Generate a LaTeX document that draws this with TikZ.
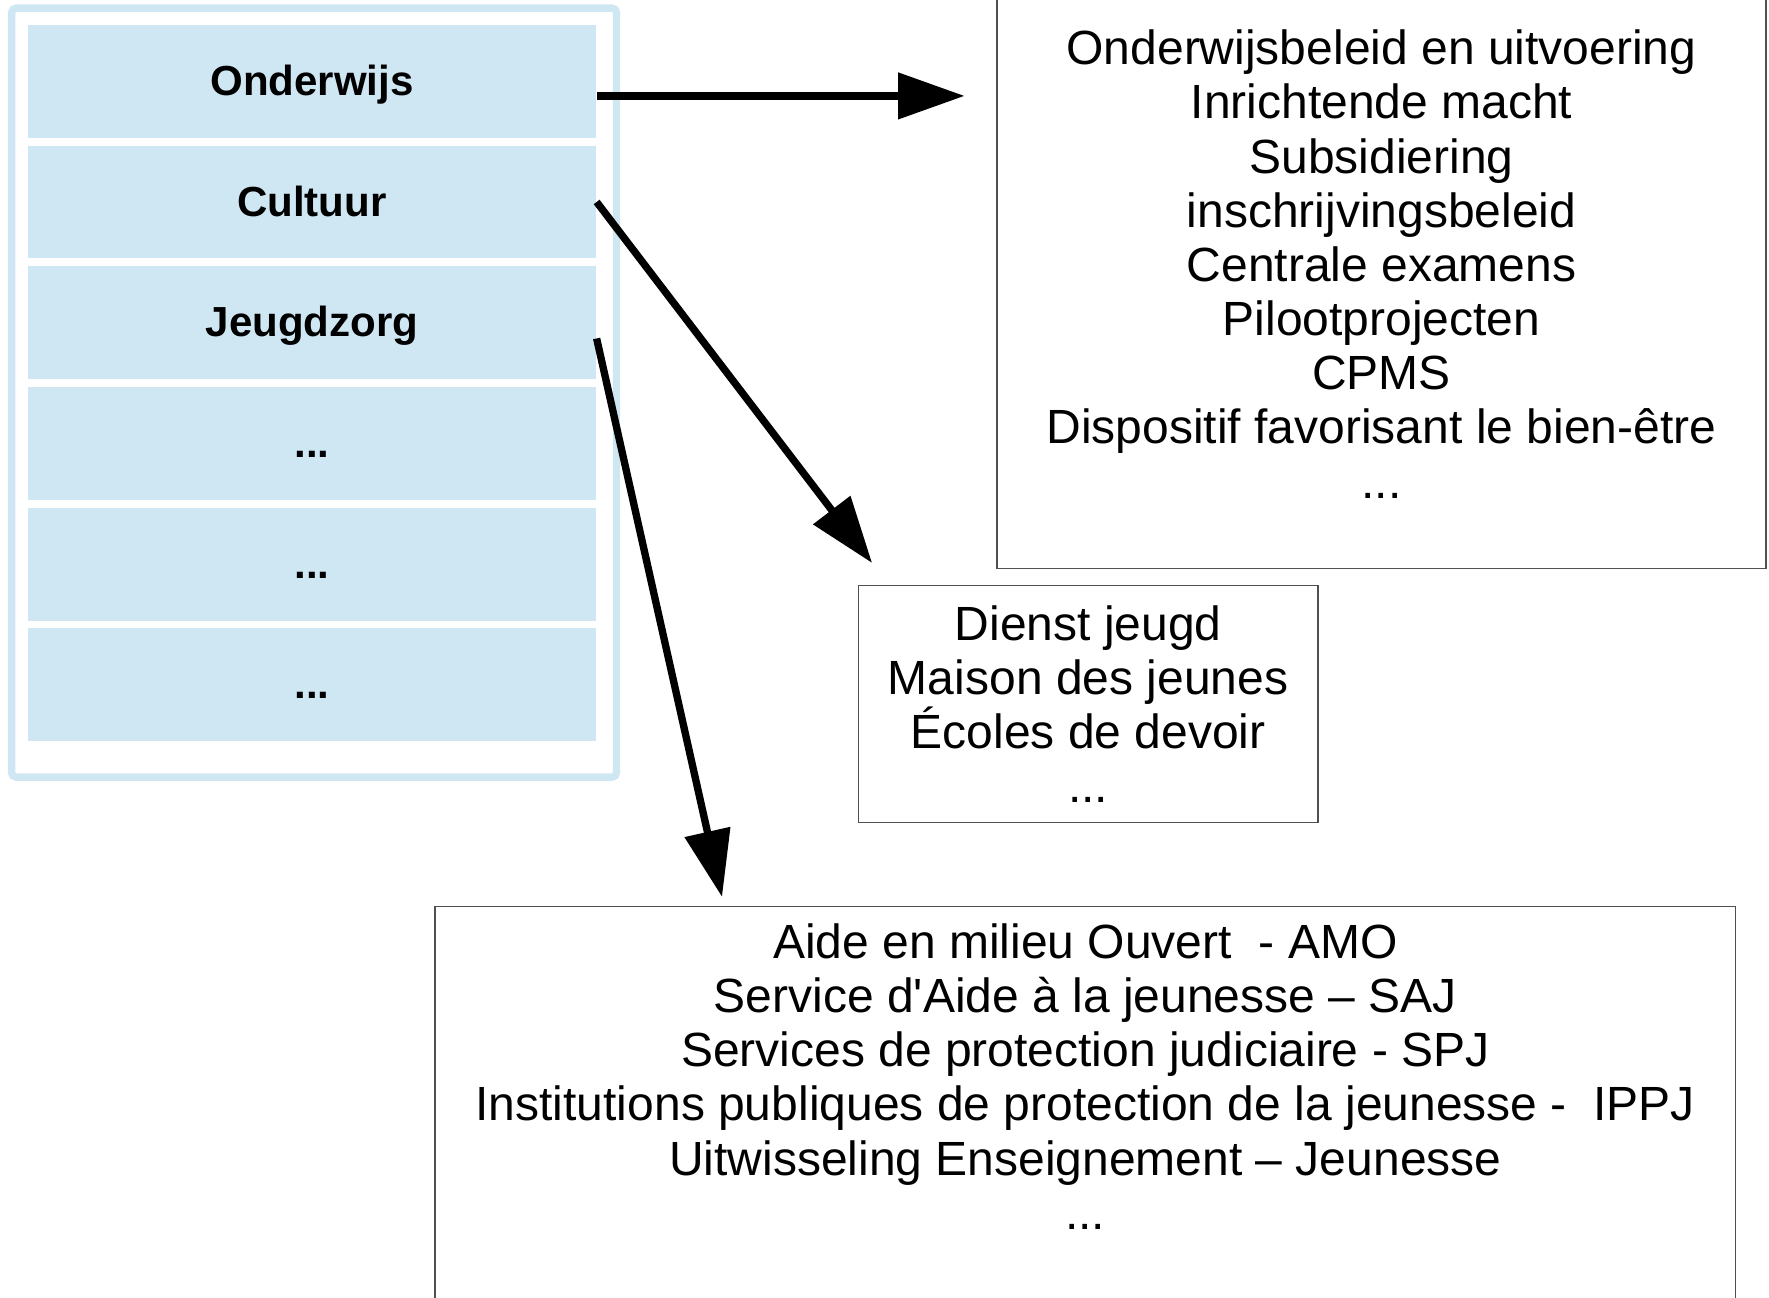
\documentclass[tikz,border=0pt]{standalone}
\usepackage{fontspec}
\setmainfont{Liberation Sans}
\usepackage{tikz}
\usetikzlibrary{arrows.meta}

\definecolor{lichtblauw}{RGB}{207,230,243}
\definecolor{randgrijs}{RGB}{80,80,80}

\tikzset{
  vak/.style={fill=lichtblauw, minimum width=5.03cm, minimum height=1cm, inner sep=0pt,
              text height=0.3cm, text depth=0.05cm,
              font=\fontsize{10.6}{12.7}\selectfont\bfseries},
  kader/.style={draw=randgrijs, line width=0.012cm, align=center, inner sep=0pt,
                font=\fontsize{12.1}{13.66}\selectfont},
  pijl/.style={line width=0.065cm, -{Triangle[length=0.59cm,width=0.40cm]}},
}

\begin{document}
\begin{tikzpicture}[x=0.01cm,y=-0.01cm]
  \useasboundingbox (0,0) rectangle (1568,1150);
  % bevoegdheden
  \draw[lichtblauw, line width=0.065cm, rounded corners=0.04cm] (10.3,7.2) rectangle (546.5,688.8);
  \node[vak] (onderwijs) at (276.5,72) {Onderwijs};
  \node[vak] (cultuur) at (276.5,179) {Cultuur};
  \node[vak] (jeugdzorg) at (276.5,286) {Jeugdzorg};
  \node[vak] (vak4) at (276.5,393) {...};
  \node[vak] (vak5) at (276.5,500) {...};
  \node[vak] (vak6) at (276.5,607) {...};

  % kaders rechts
  \node[kader, minimum width=6.81cm, minimum height=5.40cm] (taken) at (1224.5,234)
    {Onderwijsbeleid en uitvoering\\ Inrichtende macht\\ Subsidiering\\
     inschrijvingsbeleid\\ Centrale examens\\ Pilootprojecten\\ CPMS\\
     Dispositif favorisant le bien-être\\ ...};
  \node[kader, minimum width=4.07cm, minimum height=2.10cm] (jeugd) at (964.5,624)
    {Dienst jeugd\\ Maison des jeunes\\ Écoles de devoir\\ ...};
  \node[kader, minimum width=11.52cm, anchor=north, inner ysep=0.15cm, text depth=0.95cm] (hulp) at (962,803)
    {Aide en milieu Ouvert~ - AMO\\ Service d\textquotesingle Aide à la jeunesse – SAJ\\
     Services de protection judiciaire - SPJ\\
     Institutions publiques de protection de la jeunesse -~ IPPJ\\
     Uitwisseling Enseignement – Jeunesse\\ ...};

  % pijlen
  \coordinate (pA) at (855,85);
  \coordinate (pB) at (773,499);
  \coordinate (pC) at (640,795);
  \draw[pijl] (onderwijs.east |- pA) -- (pA);
  \draw[pijl] (cultuur.east) -- (pB);
  \draw[pijl] ([yshift=-0.14cm]jeugdzorg.east) -- (pC);
\end{tikzpicture}
\end{document}
